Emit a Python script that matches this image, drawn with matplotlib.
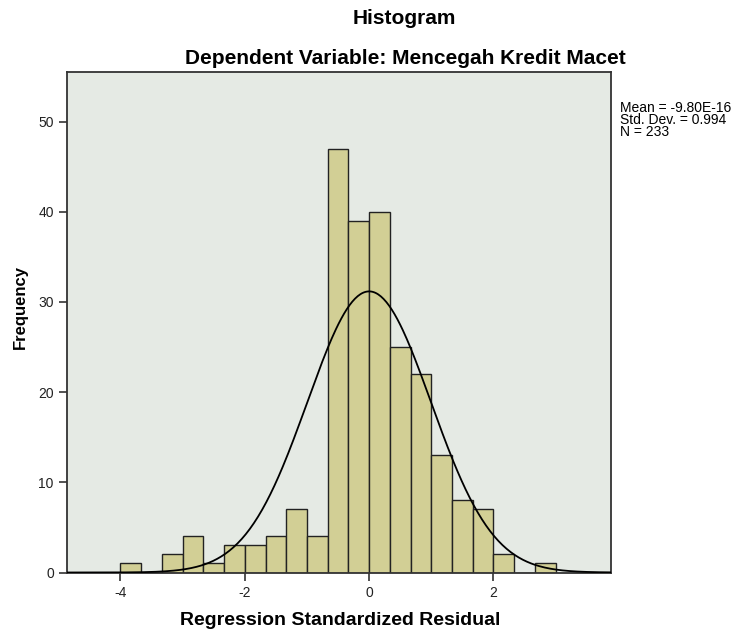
import numpy as np
import matplotlib
matplotlib.use('Agg')
import matplotlib.pyplot as plt

plt.rcParams['font.family'] = ['Liberation Sans', 'DejaVu Sans']
plt.rcParams['axes.unicode_minus'] = False

# histogram bins (width 1/3) and counts
bin_edges = np.arange(-12, 10) / 3.0
counts = [1, 0, 2, 4, 1, 3, 3, 4, 7, 4, 47, 39, 40, 25, 22, 13, 8, 7, 2, 0, 1]
mean = -9.80e-16
std = 0.994
n = 233
x_ticks = [-4, -2, 0, 2]
y_ticks = [0, 10, 20, 30, 40, 50]

fig = plt.figure(figsize=(7.34, 6.35), dpi=100)
fig.patch.set_facecolor('white')
ax = fig.add_axes([67/734, 1 - 572.5/635, 544/734, 500.5/635])
ax.set_facecolor('#e5eae4')

widths = np.diff(bin_edges)
ax.bar(bin_edges[:-1], counts, width=widths, align='edge',
       color='#d2cf95', edgecolor='#222222', linewidth=1.0, zorder=2)

# normal curve scaled to counts
xs = np.linspace(-4.86, 3.9, 400)
bw = 1/3
ys = n * bw * np.exp(-0.5 * ((xs - mean) / std) ** 2) / (std * np.sqrt(2 * np.pi))
ax.plot(xs, ys, color='black', linewidth=1.3, zorder=3)

ax.set_xlim(-4.86, 3.89)
ax.set_ylim(0, 55.5)
ax.set_xticks(x_ticks)
ax.set_yticks(y_ticks)
ax.tick_params(direction='out', length=6, width=1.2, color='#333333',
               labelsize=10, labelcolor='#222222')
for s in ax.spines.values():
    s.set_color('#333333')
    s.set_linewidth(1.3)

ax.set_xlabel('Regression Standardized Residual', fontsize=14,
              fontweight='bold')
ax.xaxis.set_label_coords((340 - 67) / 544, -(612 - 572.5) / 500.5)
ax.set_ylabel('Frequency', fontsize=12, fontweight='bold')
ax.yaxis.set_label_coords((28 - 67) / 544, (572.5 - 307) / 500.5)

fig.text(404/734, 1 - 19/635, 'Histogram', ha='center', va='center',
         fontsize=15, fontweight='bold')
fig.text(405/734, 1 - 58/635, 'Dependent Variable: Mencegah Kredit Macet',
         ha='center', va='center', fontsize=15, fontweight='bold')

fig.text(620/734, 1 - 101/635,
         'Mean = -9.80E-16\nStd. Dev. = 0.994\nN = 233',
         ha='left', va='top', fontsize=10, linespacing=0.8)

fig.savefig('out.png', dpi=100)
